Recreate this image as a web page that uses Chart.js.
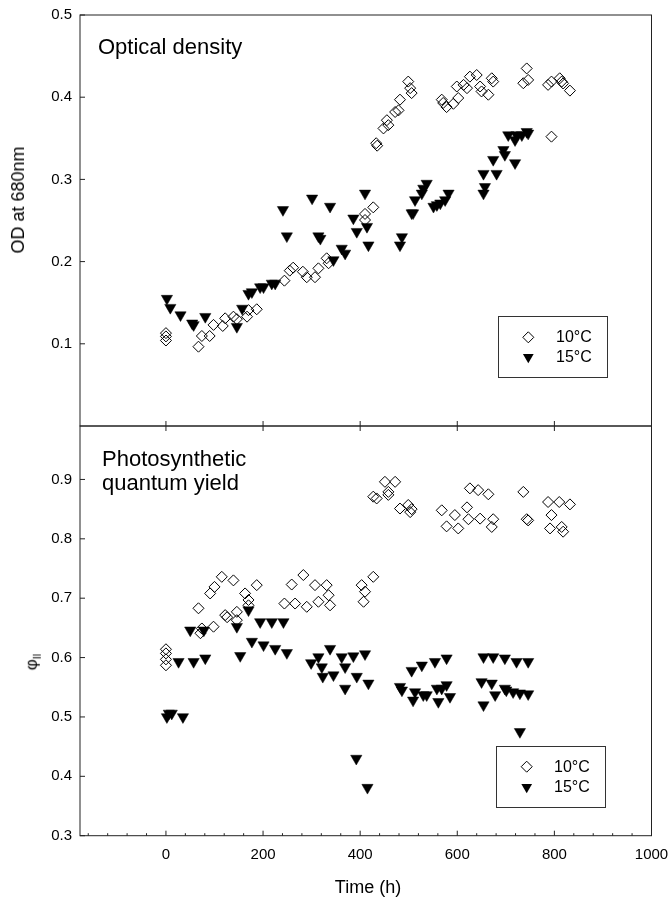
<!DOCTYPE html>
<html><head><meta charset="utf-8">
<script src="https://cdn.jsdelivr.net/npm/chart.js@4.4.0/dist/chart.umd.min.js"></script>
<style>
html,body{margin:0;padding:0;background:#fff;}
#wrap{position:relative;width:671px;height:901px;overflow:hidden;}
#c{position:absolute;left:0;top:0;}
.lbl{position:absolute;font-family:"Liberation Sans",Arial,sans-serif;color:#000;white-space:nowrap;line-height:1;}
.rot{transform:translate(-50%,-50%) rotate(-90deg);}
</style></head><body>
<div id="wrap">
<canvas id="c" width="671" height="901"></canvas>
<div class="lbl" style="left:98px;top:36px;font-size:22px;">Optical density</div>
<div class="lbl" style="left:102px;top:447px;font-size:22px;line-height:24px;">Photosynthetic<br>quantum yield</div>
<div class="lbl rot" style="left:18px;top:200px;font-size:18px;">OD at 680nm</div>
<div class="lbl rot" style="left:33px;top:662px;font-size:17px;">&#966;<sub style="font-size:10px">II</sub></div>
<div class="lbl" style="left:368px;top:887px;font-size:18px;transform:translate(-50%,-50%);">Time (h)</div>
<div class="lbl" style="left:556px;top:329px;font-size:16px;">10°C</div>
<div class="lbl" style="left:556px;top:349px;font-size:16px;">15°C</div>
<div class="lbl" style="left:554px;top:759px;font-size:16px;">10°C</div>
<div class="lbl" style="left:554px;top:779px;font-size:16px;">15°C</div>
</div>
<script>
// ---- data (time in h) ----
const xTicks = [0, 200, 400, 600, 800, 1000];
const yTopTicks = [0.1, 0.2, 0.3, 0.4, 0.5];
const yBotTicks = [0.3, 0.4, 0.5, 0.6, 0.7, 0.8, 0.9];

// Optical density, 10°C
const odT10 = [0,0,0,67,74,90,98,117,122,139,146,167,170,187,244,255,262,282,290,307,314,331,335,410,410,427,433,435,448,455,458,472,479,482,499,503,506,568,571,578,592,599,602,613,620,626,640,647,650,664,671,674,736,743,746,787,794,794,811,815,818,832];
const odV10 = [0.104,0.109,0.113,0.0965,0.1095,0.1095,0.123,0.1217,0.131,0.133,0.130,0.133,0.141,0.142,0.1768,0.189,0.1926,0.1877,0.181,0.181,0.1918,0.204,0.198,0.258,0.2506,0.266,0.344,0.341,0.362,0.372,0.366,0.382,0.384,0.397,0.419,0.411,0.405,0.397,0.393,0.388,0.392,0.413,0.399,0.415,0.411,0.425,0.427,0.413,0.407,0.403,0.423,0.419,0.417,0.435,0.421,0.415,0.419,0.352,0.423,0.419,0.4167,0.408];
// Optical density, 15°C
const odT15 = [2,9,30,54,57,81,146,157,170,177,194,201,218,225,241,249,301,314,318,338,345,362,369,386,393,410,414,417,482,486,506,509,513,527,530,537,551,558,565,575,582,654,654,657,674,681,695,698,705,719,722,719,733,743,746];
const odV15 = [0.155,0.144,0.135,0.125,0.123,0.133,0.1208,0.143,0.161,0.163,0.169,0.169,0.1735,0.1735,0.263,0.231,0.277,0.231,0.228,0.267,0.202,0.216,0.21,0.2527,0.2364,0.283,0.2425,0.220,0.220,0.230,0.259,0.259,0.275,0.283,0.289,0.295,0.267,0.269,0.271,0.275,0.283,0.307,0.283,0.291,0.324,0.307,0.336,0.330,0.354,0.348,0.354,0.320,0.354,0.358,0.356];
// Quantum yield, 10°C
const qyT10 = [0,0,0,0,67,71,74,91,98,100,115,122,126,139,146,146,163,170,170,187,244,259,266,283,290,307,314,331,335,338,403,407,410,427,427,434,451,458,458,472,482,499,503,506,568,578,595,602,620,623,626,643,647,664,671,674,736,743,746,787,791,794,810,815,818,832];
const qyV10 = [0.614,0.607,0.597,0.587,0.683,0.641,0.649,0.708,0.652,0.719,0.736,0.6715,0.668,0.730,0.677,0.663,0.708,0.697,0.688,0.722,0.691,0.723,0.691,0.739,0.6855,0.722,0.694,0.722,0.705,0.688,0.722,0.694,0.711,0.736,0.871,0.868,0.896,0.879,0.874,0.896,0.851,0.857,0.845,0.850,0.848,0.821,0.840,0.8175,0.853,0.833,0.885,0.882,0.834,0.875,0.820,0.833,0.879,0.833,0.831,0.862,0.8175,0.840,0.862,0.820,0.812,0.858];
// Quantum yield, 15°C
const qyT15 = [2,6,12,35,26,50,57,78,81,146,153,170,177,194,201,218,225,242,249,299,314,321,323,338,345,362,369,369,386,392,393,410,415,417,482,486,506,509,513,527,530,537,554,558,561,568,578,578,585,650,654,654,671,674,678,698,698,701,715,722,729,729,746,746];
const qyV15 = [0.500,0.506,0.506,0.500,0.593,0.646,0.593,0.646,0.599,0.652,0.603,0.680,0.627,0.660,0.621,0.660,0.615,0.660,0.608,0.591,0.601,0.584,0.568,0.615,0.5705,0.601,0.584,0.548,0.6025,0.430,0.568,0.606,0.381,0.5566,0.551,0.545,0.578,0.528,0.542,0.587,0.537,0.537,0.593,0.548,0.5256,0.548,0.599,0.554,0.534,0.559,0.601,0.520,0.5566,0.601,0.537,0.599,0.548,0.545,0.542,0.593,0.540,0.475,0.593,0.5386];

const pts = (t, v) => t.map((x, i) => ({x: x, y: v[i]}));
const FONT = '"Liberation Sans", Arial, sans-serif';

const diamond = {pointStyle: 'rectRot', pointRadius: 5.5, pointHoverRadius: 5.5, pointBackgroundColor: 'rgba(0,0,0,0)', pointBorderColor: '#000', pointBorderWidth: 1, showLine: false};
const tri = {pointStyle: 'triangle', rotation: 180, pointRadius: 6.5, pointHoverRadius: 6.5, pointBackgroundColor: '#000', pointBorderColor: '#000', pointBorderWidth: 0.5, showLine: false};

const frame = {
  id: 'frame',
  afterDraw(chart) {
    const ctx = chart.ctx, xs = chart.scales.x, yt = chart.scales.yTop, yb = chart.scales.yBot;
    const L = xs.left, R = xs.right;
    ctx.save();
    ctx.strokeStyle = '#222'; ctx.lineWidth = 1;
    const line = (a, b, c, d) => { ctx.beginPath(); ctx.moveTo(a, b); ctx.lineTo(c, d); ctx.stroke(); };
    ctx.strokeRect(L, yt.top, R - L, yt.bottom - yt.top);
    ctx.strokeRect(L, yb.top, R - L, yb.bottom - yb.top);
    yTopTicks.forEach(v => { const p = yt.getPixelForValue(v); line(L, p, L + 5, p); });
    yBotTicks.forEach(v => { const p = yb.getPixelForValue(v); line(L, p, L + 5, p); });
    xTicks.forEach(v => {
      const p = xs.getPixelForValue(v);
      line(p, yt.bottom - 5, p, yt.bottom + 5);
      line(p, yb.bottom, p, yb.bottom - 5);
    });
    for (let v = -160; v < 1000; v += 40) {
      if (v % 200 === 0) continue;
      const p = xs.getPixelForValue(v);
      line(p, yb.bottom, p, yb.bottom - 2.5);
    }
    // legend boxes and markers
    ctx.strokeStyle = '#333';
    const box = (x0, y0, x1, y1) => ctx.strokeRect(x0, y0, x1 - x0, y1 - y0);
    box(498.5, 316.5, 607.5, 377.5);
    box(496.5, 746.5, 605.5, 807.5);
    const dia = (x, y, r) => { ctx.beginPath(); ctx.moveTo(x - r, y); ctx.lineTo(x, y - r); ctx.lineTo(x + r, y); ctx.lineTo(x, y + r); ctx.closePath(); ctx.strokeStyle = '#000'; ctx.stroke(); };
    const tr = (x, y, r) => { ctx.beginPath(); ctx.moveTo(x - r * 0.866, y - r / 2); ctx.lineTo(x + r * 0.866, y - r / 2); ctx.lineTo(x, y + r); ctx.closePath(); ctx.fillStyle = '#000'; ctx.fill(); };
    dia(528.3, 337.3, 5.5); tr(528.3, 357, 6.2);
    dia(526.7, 766.7, 5.5); tr(526.7, 787, 6.2);
    ctx.restore();
  }
};

new Chart(document.getElementById('c'), {
  type: 'scatter',
  data: {
    datasets: [
      Object.assign({label: '10°C OD', data: pts(odT10, odV10), yAxisID: 'yTop'}, diamond),
      Object.assign({label: '15°C OD', data: pts(odT15, odV15), yAxisID: 'yTop'}, tri),
      Object.assign({label: '10°C QY', data: pts(qyT10, qyV10), yAxisID: 'yBot'}, diamond),
      Object.assign({label: '15°C QY', data: pts(qyT15, qyV15), yAxisID: 'yBot'}, tri)
    ]
  },
  options: {
    responsive: false, animation: false,
    layout: {padding: {top: 15, right: 19.5, left: 0, bottom: 0}},
    plugins: {legend: {display: false}, tooltip: {enabled: false}},
    scales: {
      x: {
        type: 'linear', position: 'bottom', min: -177, max: 1000,
        grid: {display: false, drawTicks: false}, border: {display: false},
        afterBuildTicks: s => { s.ticks = xTicks.map(v => ({value: v})); },
        afterFit: s => { s.height = 65.3; s.paddingLeft = 0; s.paddingRight = 0; },
        ticks: {color: '#000', font: {family: FONT, size: 15}, padding: 10, maxRotation: 0, callback: v => String(v)}
      },
      yBot: {
        type: 'linear', position: 'left', stack: 'panels', stackWeight: 409.7, min: 0.3, max: 0.99,
        grid: {display: false, drawTicks: false}, border: {display: false},
        afterBuildTicks: s => { s.ticks = yBotTicks.map(v => ({value: v})); },
        afterFit: s => { s.width = 80; s.paddingTop = 0; s.paddingBottom = 0; },
        ticks: {color: '#000', font: {family: FONT, size: 15}, padding: 8, callback: v => v.toFixed(1)}
      },
      yTop: {
        type: 'linear', position: 'left', stack: 'panels', stackWeight: 411, min: 0, max: 0.5,
        grid: {display: false, drawTicks: false}, border: {display: false},
        afterBuildTicks: s => { s.ticks = yTopTicks.map(v => ({value: v})); },
        afterFit: s => { s.width = 80; s.paddingTop = 0; s.paddingBottom = 0; },
        ticks: {color: '#000', font: {family: FONT, size: 15}, padding: 8, callback: v => v.toFixed(1)}
      }
    }
  },
  plugins: [frame]
});
</script>
</body></html>
